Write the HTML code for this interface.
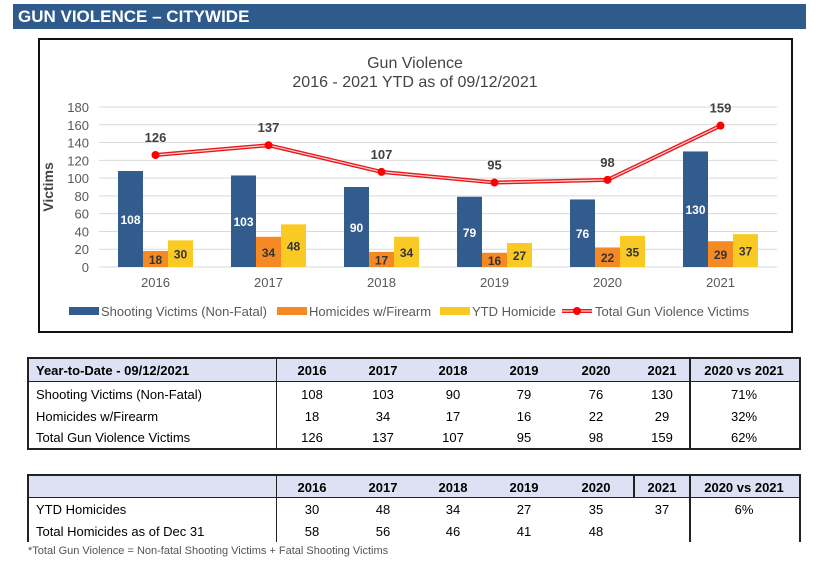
<!DOCTYPE html>
<html><head><meta charset="utf-8"><style>
body{margin:0;width:833px;height:564px;background:#fff;font-family:"Liberation Sans",Arial,sans-serif;position:relative;overflow:hidden}
.hdr{position:absolute;left:13px;top:4px;width:793px;height:25px;background:#2F5A8C;color:#fff;font-weight:bold;font-size:17px;line-height:26px;padding-left:5px;box-sizing:border-box;font-family:"Liberation Sans",sans-serif}
.box{position:absolute;left:38px;top:38px;width:755px;height:295px;border:2px solid #111;box-sizing:border-box}
svg text{font-family:"Liberation Sans",Arial,sans-serif}
.tbl{position:absolute;font-size:13px;color:#000}
.tbl div{position:absolute;white-space:nowrap}
.c{text-align:center;width:60px}
.hd{font-weight:bold}
</style></head><body>
<div class="hdr">GUN VIOLENCE – CITYWIDE</div>
<div class="box"></div>
<svg id="chart" width="833" height="340" style="position:absolute;left:0;top:0">
<text x="415" y="68" text-anchor="middle" font-size="16" fill="#444">Gun Violence</text>
<text x="415" y="87" text-anchor="middle" font-size="16" fill="#444">2016 - 2021 YTD as of 09/12/2021</text>
<text transform="translate(53,187) rotate(-90)" text-anchor="middle" font-size="14" font-weight="bold" fill="#444">Victims</text>
<g id="g"></g>
</svg>
<script>
const categories=['2016','2017','2018','2019','2020','2021'];
const shooting=[108,103,90,79,76,130];
const homicides=[18,34,17,16,22,29];
const ytdHom=[30,48,34,27,35,37];
const total=[126,137,107,95,98,159];
const yTicks=[0,20,40,60,80,100,120,140,160,180];
const X0=99,X1=777,Y0=267,Y1=107,YMAX=180;
const NS='http://www.w3.org/2000/svg';
const g=document.getElementById('g');
const bw=(X1-X0)/categories.length;
function y(v){return Y0-(Y0-Y1)*v/YMAX;}
function cx(i){return X0+bw*(i+0.5);}
function mk(t,a,p){const e=document.createElementNS(NS,t);for(const k in a)e.setAttribute(k,a[k]);(p||g).appendChild(e);return e;}
yTicks.forEach(t=>{
 const l=mk('line',{x1:X0,x2:X1,y1:y(t),y2:y(t),stroke:'#d9d9d9','stroke-width':1});
 
 
 const tx=mk('text',{x:X0-10,y:y(t)+5,'text-anchor':'end','font-size':13,fill:'#595959'});tx.textContent=t;
 
 
});
const series=[[shooting,'#335C8E','#fff'],[homicides,'#F58A25','#333'],[ytdHom,'#F9CA24','#333']];
categories.forEach((c,i)=>{
 series.forEach((s,j)=>{
  const v=s[0][i];const x=cx(i)-37.5+j*25;
  const r=mk('rect',{x:x,y:y(v),width:25,height:Y0-y(v),fill:s[1]});
  
  
  const ly=(y(v)+Y0)/2+5;
  const t=mk('text',{x:x+12.5,y:ly,'text-anchor':'middle','font-size':12,'font-weight':'bold',fill:s[2]});t.textContent=v;
  
  
 });
 const xl=mk('text',{x:cx(i),y:Y0+20,'text-anchor':'middle','font-size':13,fill:'#595959'});xl.textContent=c;
 
 
});
const pts=total.map((v,i)=>cx(i)+','+y(v)).join(' ');
mk('polyline',{points:pts,fill:'none',stroke:'#E8181B','stroke-width':4});
const pl=mk('polyline',{points:pts,fill:'none',stroke:'#FFD0D0','stroke-width':1.2});


total.forEach((v,i)=>{
 const d=mk('circle',{cx:cx(i),cy:y(v),r:4,fill:'#f00'});
 
 
 const t=mk('text',{x:cx(i),y:y(v)-13,'text-anchor':'middle','font-size':13,'font-weight':'bold',fill:'#404040'});t.textContent=v;
 
 
});
const leg=[['rect','#335C8E','Shooting Victims (Non-Fatal)',69],['rect','#F58A25','Homicides w/Firearm',277],['rect','#F9CA24','YTD Homicide',440],['line','#E8181B','Total Gun Violence Victims',562]];
leg.forEach(l=>{
 if(l[0]=='rect'){const r=mk('rect',{x:l[3],y:307,width:30,height:8,fill:l[1]});}
 else{mk('line',{x1:l[3],x2:l[3]+30,y1:311,y2:311,stroke:l[1],'stroke-width':4});mk('line',{x1:l[3],x2:l[3]+30,y1:311,y2:311,stroke:'#FFD0D0','stroke-width':1.2});mk('circle',{cx:l[3]+15,cy:311,r:4,fill:'#f00'});}
 const t=mk('text',{x:l[3]+(l[0]=='rect'?32:33),y:316,'font-size':13,fill:'#595959'});t.textContent=l[2];
 
 
});
</script>

<div class="tbl" style="left:0;top:0">
<div style="left:27px;top:357px;width:774px;height:25px;background:#DCE1F3;border-top:2px solid #222;border-bottom:1px solid #222;box-sizing:border-box"></div>
<div style="left:27px;top:357px;width:2px;height:92px;background:#222"></div>
<div style="left:799px;top:357px;width:2px;height:92px;background:#222"></div>
<div style="left:276px;top:357px;width:1px;height:92px;background:#222"></div>
<div style="left:689px;top:357px;width:2px;height:92px;background:#222"></div>
<div style="left:27px;top:448px;width:774px;height:2px;background:#222"></div>
<div class="hd" style="left:36px;top:363px">Year-to-Date - 09/12/2021</div>
<div class="hd c" style="left:282px;top:363px">2016</div><div class="hd c" style="left:353px;top:363px">2017</div><div class="hd c" style="left:423px;top:363px">2018</div><div class="hd c" style="left:494px;top:363px">2019</div><div class="hd c" style="left:566px;top:363px">2020</div><div class="hd c" style="left:632px;top:363px">2021</div><div class="hd c" style="left:704px;top:363px;width:80px">2020 vs 2021</div>
<div style="left:36px;top:387px">Shooting Victims (Non-Fatal)</div>
<div class="c" style="left:282px;top:387px">108</div><div class="c" style="left:353px;top:387px">103</div><div class="c" style="left:423px;top:387px">90</div><div class="c" style="left:494px;top:387px">79</div><div class="c" style="left:566px;top:387px">76</div><div class="c" style="left:632px;top:387px">130</div><div class="c" style="left:714px;top:387px">71%</div>
<div style="left:36px;top:409px">Homicides w/Firearm</div>
<div class="c" style="left:282px;top:409px">18</div><div class="c" style="left:353px;top:409px">34</div><div class="c" style="left:423px;top:409px">17</div><div class="c" style="left:494px;top:409px">16</div><div class="c" style="left:566px;top:409px">22</div><div class="c" style="left:632px;top:409px">29</div><div class="c" style="left:714px;top:409px">32%</div>
<div style="left:36px;top:430px">Total Gun Violence Victims</div>
<div class="c" style="left:282px;top:430px">126</div><div class="c" style="left:353px;top:430px">137</div><div class="c" style="left:423px;top:430px">107</div><div class="c" style="left:494px;top:430px">95</div><div class="c" style="left:566px;top:430px">98</div><div class="c" style="left:632px;top:430px">159</div><div class="c" style="left:714px;top:430px">62%</div>
</div>

<div class="tbl" style="left:0;top:0">
<div style="left:27px;top:474px;width:774px;height:24px;background:#DCE1F3;border-top:2px solid #222;border-bottom:1px solid #222;box-sizing:border-box"></div>
<div style="left:27px;top:474px;width:2px;height:68px;background:#222"></div>
<div style="left:799px;top:474px;width:2px;height:68px;background:#222"></div>
<div style="left:276px;top:474px;width:1px;height:68px;background:#222"></div>
<div style="left:689px;top:474px;width:2px;height:68px;background:#222"></div>
<div style="left:633px;top:474px;width:2px;height:24px;background:#222"></div>
<div class="hd c" style="left:282px;top:480px">2016</div><div class="hd c" style="left:353px;top:480px">2017</div><div class="hd c" style="left:423px;top:480px">2018</div><div class="hd c" style="left:494px;top:480px">2019</div><div class="hd c" style="left:566px;top:480px">2020</div><div class="hd c" style="left:632px;top:480px">2021</div><div class="hd c" style="left:704px;top:480px;width:80px">2020 vs 2021</div>
<div style="left:36px;top:502px">YTD Homicides</div>
<div class="c" style="left:282px;top:502px">30</div><div class="c" style="left:353px;top:502px">48</div><div class="c" style="left:423px;top:502px">34</div><div class="c" style="left:494px;top:502px">27</div><div class="c" style="left:566px;top:502px">35</div><div class="c" style="left:632px;top:502px">37</div><div class="c" style="left:714px;top:502px">6%</div>
<div style="left:36px;top:524px">Total Homicides as of Dec 31</div>
<div class="c" style="left:282px;top:524px">58</div><div class="c" style="left:353px;top:524px">56</div><div class="c" style="left:423px;top:524px">46</div><div class="c" style="left:494px;top:524px">41</div><div class="c" style="left:566px;top:524px">48</div>
</div>
<div style="position:absolute;left:28px;top:545px;font-size:11px;color:#555;white-space:nowrap">*Total Gun Violence = Non-fatal Shooting Victims + Fatal Shooting Victims</div>
</body></html>
